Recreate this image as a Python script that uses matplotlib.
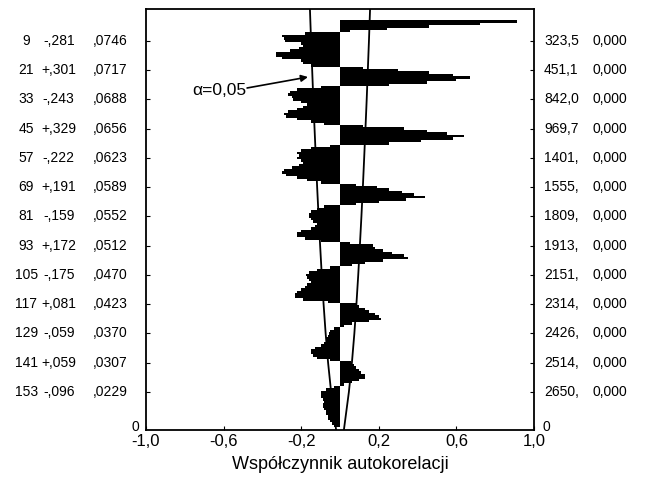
import matplotlib
matplotlib.use("Agg")
import matplotlib.pyplot as plt
import numpy as np

plt.rcParams["font.family"] = ["Liberation Sans", "DejaVu Sans"]

# autocorrelation per lag (lag 1 at top)
ACF = [
    0.91, 0.72, 0.46, 0.24, 0.05, -0.18, -0.30, -0.29, -0.281, -0.20,
    -0.19, -0.21, -0.26, -0.33, -0.33, -0.30, -0.20, -0.19, -0.15, 0.12,
    0.301, 0.46, 0.58, 0.67, 0.60, 0.45, 0.25, -0.10, -0.22, -0.26,
    -0.27, -0.25, -0.243, -0.20, -0.17, -0.19, -0.22, -0.27, -0.29, -0.28,
    -0.22, -0.15, -0.08, 0.12, 0.329, 0.45, 0.55, 0.64, 0.58, 0.42,
    0.25, -0.05, -0.15, -0.20, -0.22, -0.21, -0.222, -0.20, -0.19, -0.21,
    -0.25, -0.29, -0.30, -0.28, -0.22, -0.17, -0.10, 0.08, 0.191, 0.25,
    0.32, 0.38, 0.44, 0.34, 0.20, 0.08, -0.08, -0.12, -0.15, -0.16,
    -0.159, -0.15, -0.14, -0.12, -0.13, -0.15, -0.20, -0.22, -0.22, -0.18,
    -0.10, 0.05, 0.172, 0.18, 0.22, 0.27, 0.33, 0.35, 0.22, 0.13,
    0.06, -0.05, -0.12, -0.16, -0.175, -0.17, -0.16, -0.15, -0.17, -0.18,
    -0.20, -0.22, -0.23, -0.23, -0.19, -0.06, 0.081, 0.10, 0.13, 0.15,
    0.18, 0.20, 0.21, 0.15, 0.06, 0.02, -0.03, -0.05, -0.059, -0.06,
    -0.07, -0.07, -0.08, -0.10, -0.13, -0.15, -0.15, -0.14, -0.12, -0.05,
    0.059, 0.07, 0.08, 0.10, 0.11, 0.13, 0.13, 0.10, 0.06, 0.02,
    -0.03, -0.07, -0.096, -0.10, -0.10, -0.09, -0.085, -0.09, -0.09, -0.08,
    -0.07, -0.07, -0.06, -0.06, -0.05, -0.04, -0.03,
]
LAGS = np.arange(1, len(ACF) + 1)

# table printed beside the chart
TAB_LAGS = [9, 21, 33, 45, 57, 69, 81, 93, 105, 117, 129, 141, 153]
TAB_CORR = ["-,281", "+,301", "-,243", "+,329", "-,222", "+,191", "-,159",
            "+,172", "-,175", "+,081", "-,059", "+,059", "-,096"]
TAB_SE = [0.0746, 0.0717, 0.0688, 0.0656, 0.0623, 0.0589, 0.0552,
          0.0512, 0.0470, 0.0423, 0.0370, 0.0307, 0.0229]
TAB_Q = ["323,5", "451,1", "842,0", "969,7", "1401,", "1555,", "1809,",
         "1913,", "2151,", "2314,", "2426,", "2514,", "2650,"]
TAB_P = ["0,000"] * 13

# confidence band ends at top / bottom of the frame
BAND_TOP = 0.155
BAND_BOTTOM = 0.02

Y_TOP, Y_BOTTOM = -4.1, 168.6

fig = plt.figure(figsize=(6.48, 4.78), dpi=100)
ax = fig.add_axes([146 / 648, 48 / 478, 388 / 648, 421 / 478])

ax.barh(LAGS, ACF, height=1.0, color="black", linewidth=0)

band_y = [Y_TOP] + TAB_LAGS + [Y_BOTTOM]
band_x = [BAND_TOP] + [2 * s for s in TAB_SE] + [BAND_BOTTOM]
ax.plot(band_x, band_y, color="black", lw=1.3)
ax.plot([-b for b in band_x], band_y, color="black", lw=1.3)

ax.set_xlim(-1, 1)
ax.set_ylim(Y_BOTTOM, Y_TOP)
ax.set_xticks([-1.0, -0.6, -0.2, 0.2, 0.6, 1.0])
ax.set_xticklabels(["-1,0", "-0,6", "-0,2", "0,2", "0,6", "1,0"], fontsize=12)
ax.set_yticks(TAB_LAGS)
ax.set_yticklabels([])
ax.tick_params(axis="both", direction="in", length=3, width=0.8,
               left=True, right=True, bottom=True, top=False, pad=3)
for s in ax.spines.values():
    s.set_linewidth(1.3)
ax.set_xlabel("Współczynnik autokorelacji", fontsize=13, labelpad=5)

tr = ax.get_yaxis_transform()
fs = 10
for lag, c, se, q, p in zip(TAB_LAGS, TAB_CORR, TAB_SE, TAB_Q, TAB_P):
    ax.text(-0.309, lag, str(lag), transform=tr, ha="center", va="center", fontsize=fs)
    ax.text(-0.225, lag, c, transform=tr, ha="center", va="center", fontsize=fs)
    ax.text(-0.137, lag, f"{se:.4f}"[1:].replace(".", ","), transform=tr,
            ha="left", va="center", fontsize=fs)
    ax.text(1.026, lag, q, transform=tr, ha="left", va="center", fontsize=fs)
    ax.text(1.152, lag, p, transform=tr, ha="left", va="center", fontsize=fs)
ax.text(-0.018, Y_BOTTOM - 1.4, "0", transform=tr, ha="right", va="center", fontsize=fs)
ax.text(1.022, Y_BOTTOM - 1.4, "0", transform=tr, ha="left", va="center", fontsize=fs)

ax.annotate("", xy=(-0.165, 23.8), xytext=(-0.479, 28.3),
            arrowprops=dict(arrowstyle="-|>", color="black", lw=1.2,
                            mutation_scale=10, shrinkA=0, shrinkB=0))
ax.text(-0.485, 29.3, "α=0,05", fontsize=12.5, ha="right", va="center")

fig.savefig("out.png", dpi=100)
